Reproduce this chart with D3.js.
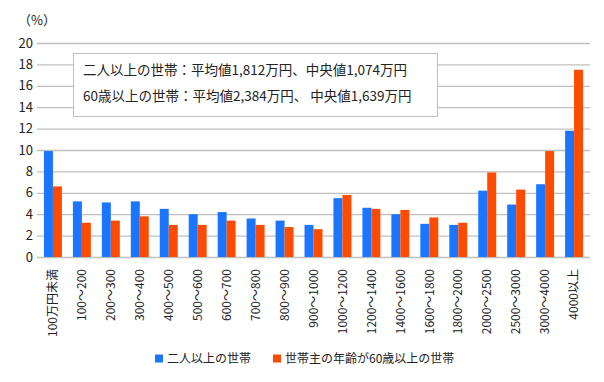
<!DOCTYPE html>
<html>
<head>
<meta charset="utf-8">
<script src="https://cdn.jsdelivr.net/npm/d3@7"></script>
<style>
  body { margin: 0; background: #fff; }
  text { font-family: "Noto Sans CJK JP", "Noto Sans", sans-serif; fill: #222; }
</style>
</head>
<body>
<div id="chart"></div>
<script>
const categories = ["100万円未満", "100～200", "200～300", "300～400", "400～500", "500～600", "600～700", "700～800", "800～900", "900～1000",
  "1000～1200", "1200～1400", "1400～1600", "1600～1800", "1800～2000", "2000～2500", "2500～3000", "3000～4000", "4000以上"]
const twoPlus = [9.9, 5.2, 5.1, 5.2, 4.5, 4.0, 4.2, 3.6, 3.4, 3.0, 5.5, 4.6, 4.0, 3.1, 3.0, 6.2, 4.9, 6.8, 11.8]
const over60 = [6.6, 3.2, 3.4, 3.8, 3.0, 3.0, 3.4, 3.0, 2.8, 2.6, 5.8, 4.5, 4.4, 3.7, 3.2, 7.9, 6.3, 9.9, 17.5]
const yTicks = [0, 2, 4, 6, 8, 10, 12, 14, 16, 18, 20]
const seriesNames = ["二人以上の世帯", "世帯主の年齢が60歳以上の世帯"]
const colors = ["#1a75ff", "#ff4b00"]
const noteLines = ["二人以上の世帯：平均値1,812万円、中央値1,074万円", "60歳以上の世帯：平均値2,384万円、 中央値1,639万円"]

const W = 604, H = 382
const M = { TOP: 43, LEFT: 37, RIGHT: 14, BOTTOM: 125 }

const svg = d3.select("#chart").append("svg")
  .attr("width", W).attr("height", H)

const x = d3.scaleBand()
  .domain(categories)
  .range([M.LEFT, W - M.RIGHT])
  .paddingInner(0.38)
  .paddingOuter(0.24)

const x1 = d3.scaleBand()
  .domain([0, 1])
  .range([0, x.bandwidth()])

const y = d3.scaleLinear()
  .domain([0, 20])
  .range([H - M.BOTTOM, M.TOP])

// gridlines + y labels
const yAxis = svg.append("g")
  .attr("transform", `translate(${M.LEFT},0)`)
  .call(d3.axisLeft(y).tickValues(yTicks).tickSize(-(W - M.LEFT - M.RIGHT)).tickPadding(5))
yAxis.select(".domain").remove()
yAxis.selectAll(".tick line").attr("stroke", "#bfbfbf").attr("stroke-width", 1.3)
yAxis.selectAll(".tick text").attr("font-size", 13).attr("x", -4)

svg.append("text")
  .attr("x", 18).attr("y", 25)
  .attr("font-size", 13)
  .text("（%）")

// bars
const rows = categories.map((c, i) => ({ cat: c, vals: [twoPlus[i], over60[i]] }))
svg.append("g").selectAll("g")
  .data(rows)
  .join("g")
  .attr("transform", d => `translate(${x(d.cat)},0)`)
  .selectAll("rect")
  .data(d => d.vals.map((v, k) => ({ k, v })))
  .join("rect")
  .attr("x", d => x1(d.k))
  .attr("width", x1.bandwidth())
  .attr("y", d => y(d.v))
  .attr("height", d => y(0) - y(d.v))
  .attr("fill", d => colors[d.k])

// x labels
const xAxis = svg.append("g")
  .attr("transform", `translate(0,${y(0)})`)
  .call(d3.axisBottom(x).tickSize(0).tickPadding(0))
xAxis.select(".domain").remove()
xAxis.selectAll(".tick text")
  .attr("font-size", 12)
  .attr("transform", "rotate(-90)")
  .attr("text-anchor", "end")
  .attr("x", -12)
  .attr("y", 0)
  .attr("dy", "0.35em")

// note box
svg.append("rect")
  .attr("x", 73.5).attr("y", 53.5)
  .attr("width", 364).attr("height", 63)
  .attr("fill", "#fff").attr("stroke", "#bfbfbf")
svg.append("g").selectAll("text")
  .data(noteLines)
  .join("text")
  .attr("x", 83)
  .attr("y", (d, i) => 75 + i * 26)
  .attr("font-size", 13.5)
  .text(d => d)

// legend
const legend = svg.append("g").attr("transform", "translate(155,359)")
const items = legend.selectAll("g")
  .data(seriesNames)
  .join("g")
  .attr("transform", (d, i) => `translate(${i * 118},0)`)
items.append("rect")
  .attr("x", 0).attr("y", -4.5)
  .attr("width", 8).attr("height", 8)
  .attr("fill", (d, i) => colors[i])
items.append("text")
  .attr("x", 12).attr("y", 0)
  .attr("dy", "0.35em")
  .attr("font-size", 12)
  .text(d => d)
</script>
</body>
</html>
